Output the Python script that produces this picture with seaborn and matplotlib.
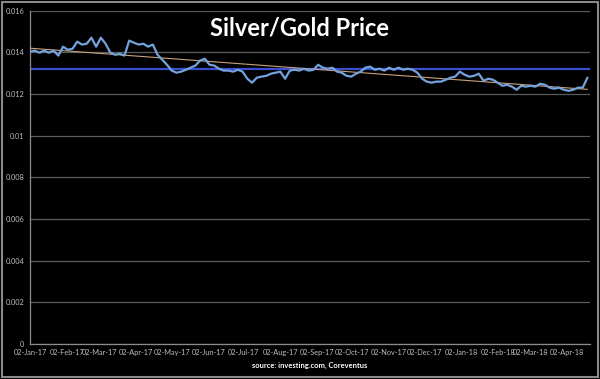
import numpy as np
import pandas as pd
import matplotlib
matplotlib.use("Agg")
import matplotlib.pyplot as plt
import matplotlib.dates as mdates
from matplotlib.ticker import FuncFormatter, MultipleLocator
import seaborn as sns

# ---- data ----
start_date = "2017-01-02"
step_days = 4
ratio = [
    0.01404, 0.01409, 0.01399, 0.01409, 0.01399, 0.01409, 0.01385, 0.01428, 0.01413, 0.01418,
    0.01452, 0.01438, 0.01442, 0.01471, 0.01428, 0.01471, 0.01442, 0.01399, 0.01389, 0.01394,
    0.01385, 0.01457, 0.01447, 0.01438, 0.01442, 0.01428, 0.01438, 0.01389, 0.01365, 0.01341,
    0.01313, 0.01303, 0.01308, 0.01317, 0.01327, 0.01337, 0.01361, 0.01370, 0.01341, 0.01337,
    0.01322, 0.01313, 0.01313, 0.01308, 0.01317, 0.01308, 0.01274, 0.01255, 0.01279, 0.01284,
    0.01288, 0.01298, 0.01303, 0.01308, 0.01274, 0.01313, 0.01317, 0.01313, 0.01322, 0.01313,
    0.01317, 0.01341, 0.01327, 0.01322, 0.01327, 0.01308, 0.01303, 0.01288, 0.01284, 0.01298,
    0.01308, 0.01327, 0.01332, 0.01317, 0.01322, 0.01313, 0.01327, 0.01317, 0.01327, 0.01317,
    0.01322, 0.01317, 0.01303, 0.01274, 0.01260, 0.01255, 0.01260, 0.01260, 0.01269, 0.01279,
    0.01284, 0.01308, 0.01293, 0.01284, 0.01288, 0.01298, 0.01264, 0.01274, 0.01269, 0.01255,
    0.01240, 0.01245, 0.01236, 0.01221, 0.01240, 0.01236, 0.01240, 0.01236, 0.01250, 0.01245,
    0.01231, 0.01226, 0.01231, 0.01221, 0.01216, 0.01221, 0.01231, 0.01231, 0.01279,
]
dates = pd.date_range(start_date, periods=len(ratio), freq=f"{step_days}D")
tick_dates = pd.date_range("2017-01-01", "2018-04-02", freq="MS") + pd.Timedelta(days=1)
title = "Silver/Gold Price"
source = "source: investing.com, Coreventus"

df = pd.DataFrame({"date": dates, "ratio": ratio})

# ---- style ----
sns.set_style("dark")
plt.rcParams["font.family"] = ["Lato", "DejaVu Sans"]

fig = plt.figure(figsize=(6.0, 3.79), dpi=100, facecolor="black")
ax = fig.add_axes([0.05, 0.0924, 0.933, 0.879])
ax.set_facecolor("black")

# gridlines
ax.set_ylim(0, 0.016)
ax.yaxis.set_major_locator(MultipleLocator(0.002))
ax.grid(axis="y", color="#5a5a5a", linewidth=0.9)
ax.grid(axis="x", visible=False)
ax.set_axisbelow(True)

# average line
avg = float(np.mean(ratio))
ax.axhline(avg, color="#3a4fd0", linewidth=1.6, zorder=2)

# linear trend line from the data
days = (df["date"] - df["date"].iloc[0]).dt.days.values
coef = np.polyfit(days, df["ratio"].values, 1)
trend = np.polyval(coef, days)
ax.plot(df["date"], trend, color="#c9a27a", linewidth=0.8, zorder=3)

sns.lineplot(data=df, x="date", y="ratio", ax=ax, color="#74a3dc", linewidth=1.6, zorder=4)

ax.set_xlim(pd.Timestamp("2017-01-02"), pd.Timestamp("2018-04-21"))
ax.set_xticks(tick_dates)
ax.xaxis.set_major_formatter(mdates.DateFormatter("%d-%b-%y"))
ax.yaxis.set_major_formatter(FuncFormatter(lambda v, p: f"{v:g}"))
ax.tick_params(axis="x", colors="#8c8c8c", labelcolor="#bdbdbd", labelsize=5.3,
               direction="in", length=2, pad=3.5)
ax.tick_params(axis="y", colors="#bdbdbd", labelsize=5.3, length=0, pad=4)
ax.set_xlabel("")
ax.set_ylabel("")
for s in ["top", "right"]:
    ax.spines[s].set_visible(False)
ax.spines["left"].set_color("#8c8c8c")
ax.spines["bottom"].set_color("#8c8c8c")
ax.spines["left"].set_linewidth(0.9)
ax.spines["bottom"].set_linewidth(0.9)

fig.text(0.5, 0.925, title, color="white", fontsize=17, fontweight="bold",
         ha="center", va="center")
fig.text(0.516, 0.037, source, color="white", fontsize=5.4, fontweight="bold",
         ha="center", va="center")

# outer frame
frame = plt.Rectangle((0.004, 0.006), 0.992, 0.988, transform=fig.transFigure,
                      fill=False, edgecolor="#8a8a8a", linewidth=1.5)
fig.patches.append(frame)

fig.savefig("out.png", dpi=100, facecolor="black")
